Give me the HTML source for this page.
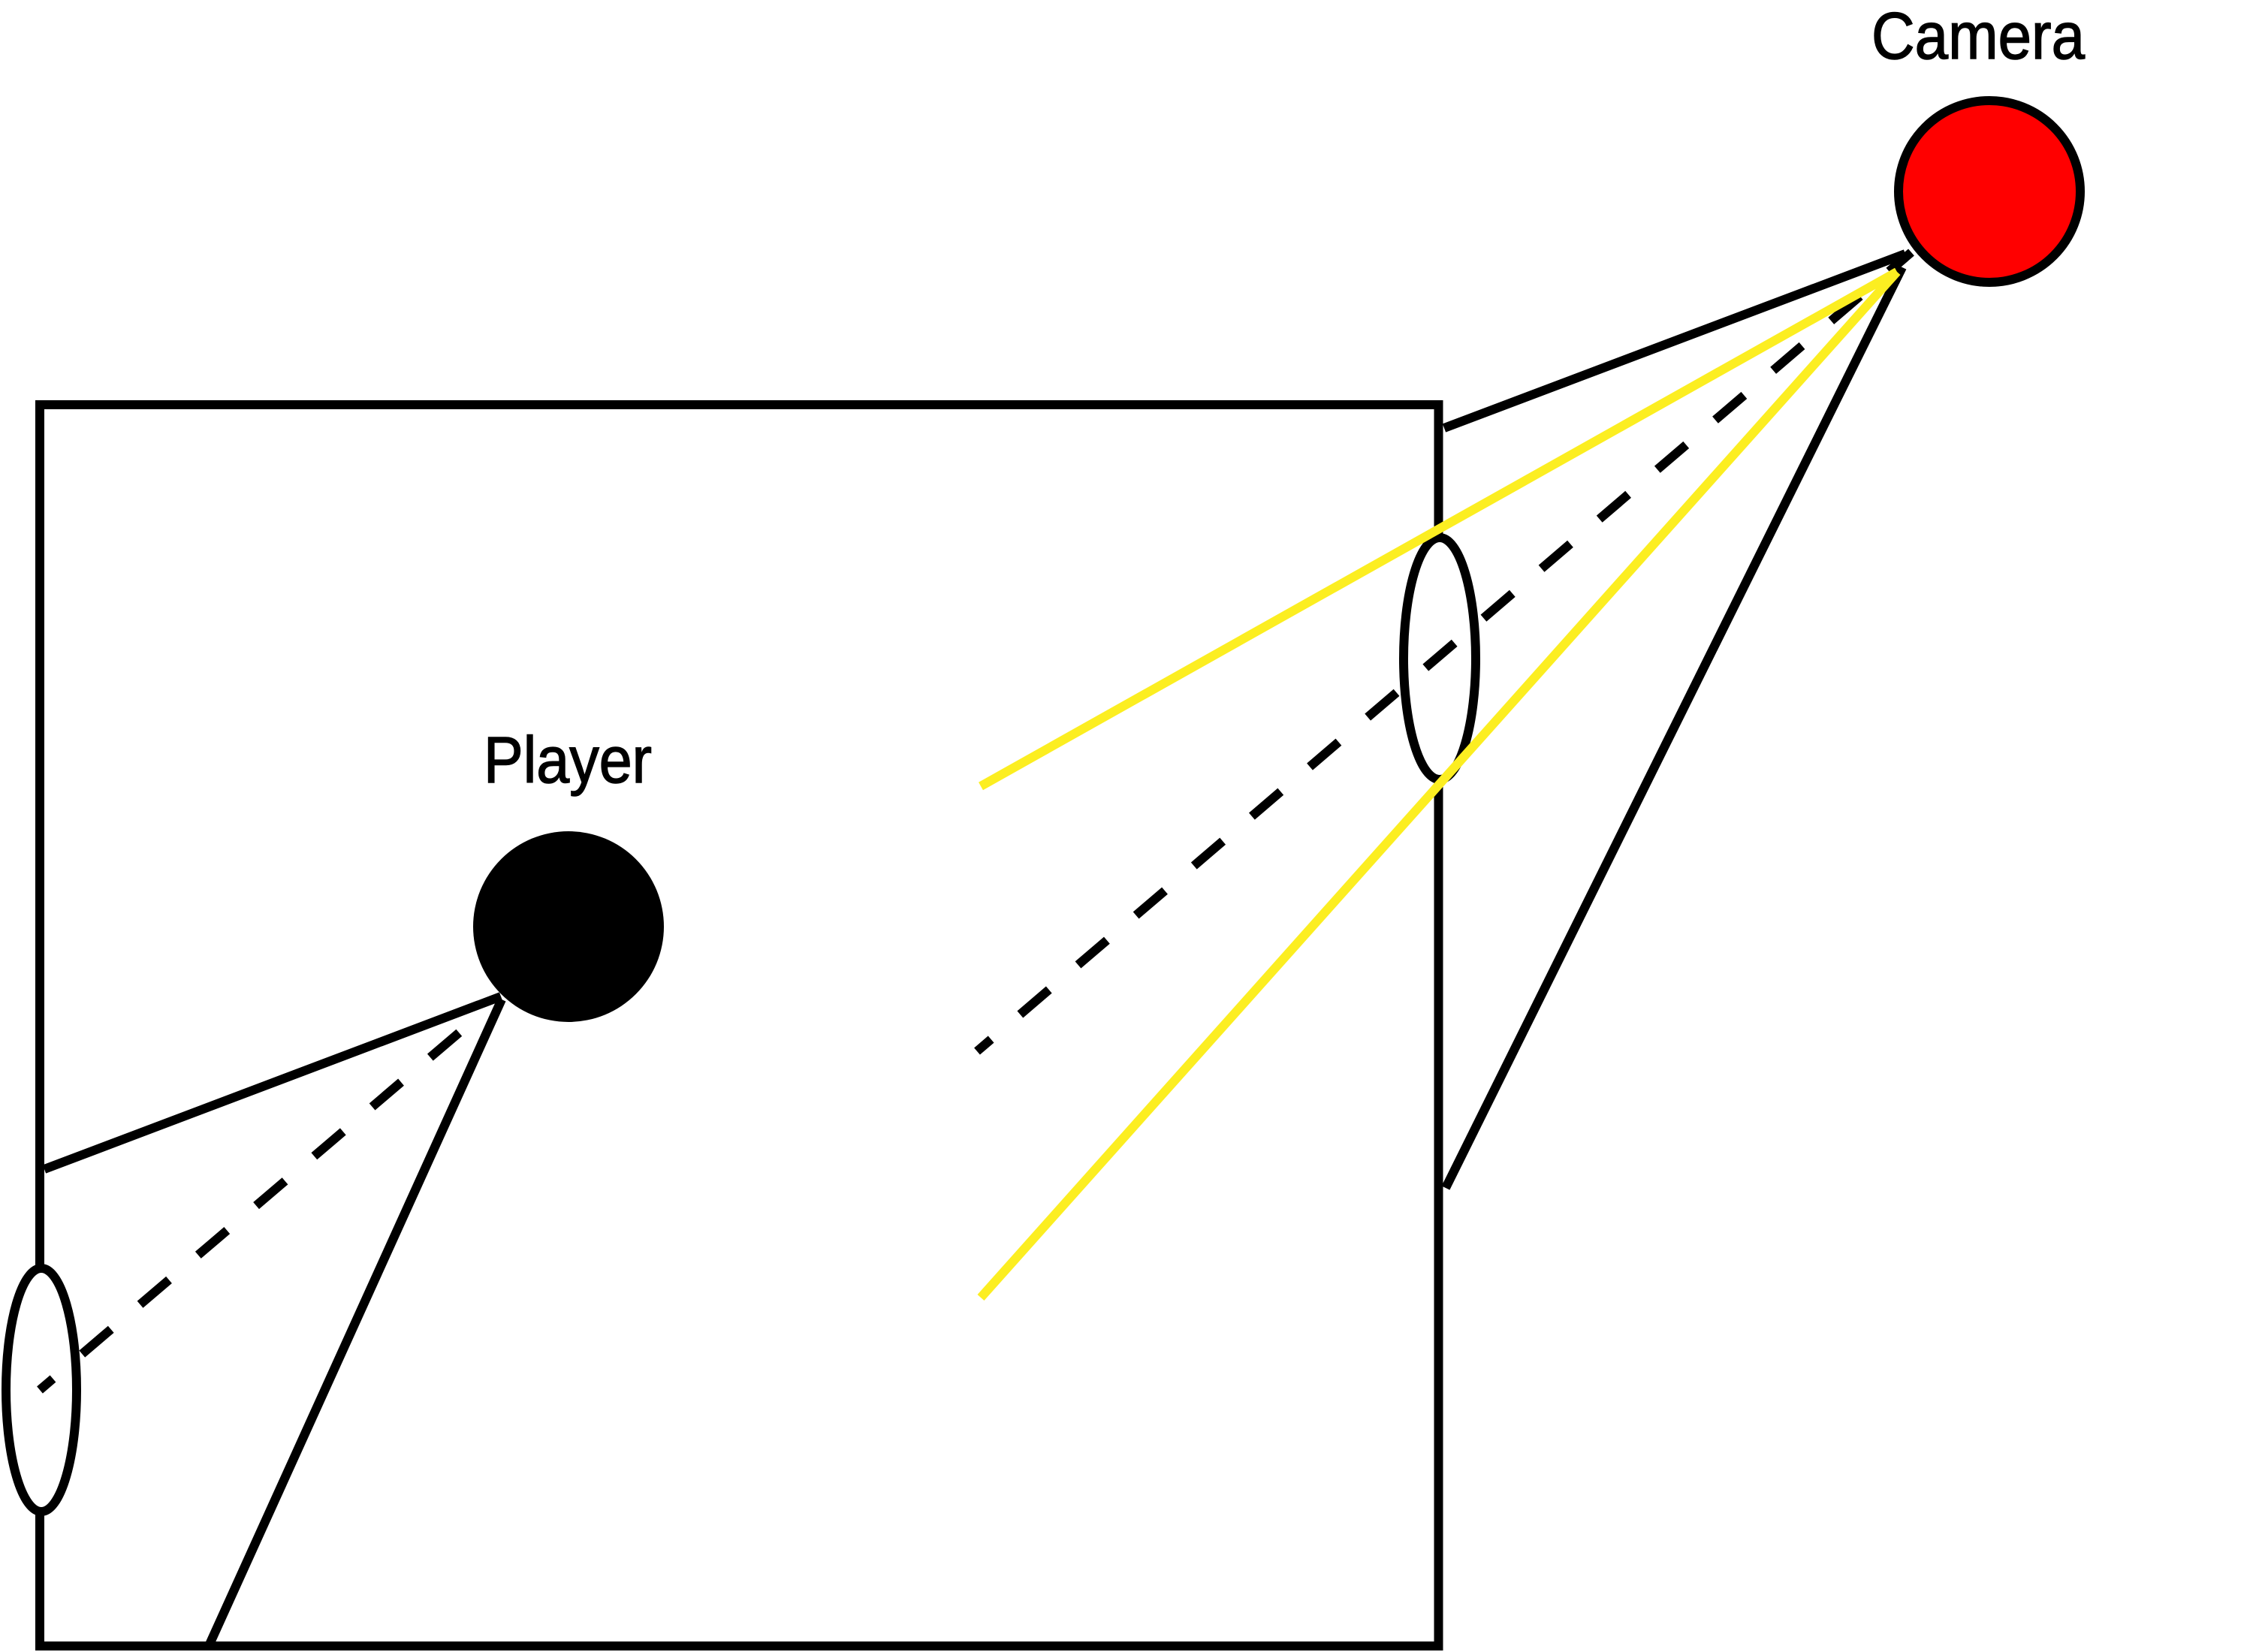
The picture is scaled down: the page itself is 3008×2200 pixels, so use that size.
<!DOCTYPE html>
<html>
<head>
<meta charset="utf-8">
<style>
  html, body { margin: 0; padding: 0; background: #ffffff; }
  body { width: 3008px; height: 2200px; overflow: hidden; }
  svg { display: block; }
</style>
</head>
<body>
<svg width="3008" height="2200" viewBox="0 0 3008 2200" xmlns="http://www.w3.org/2000/svg">
  <rect x="0" y="0" width="3008" height="2200" fill="#ffffff"/>

  <!-- room rectangle -->
  <rect x="53" y="539" width="1862.5" height="1653" fill="none" stroke="#000" stroke-width="12"/>

  <!-- door ellipses -->
  <ellipse cx="55" cy="1851" rx="47" ry="162" fill="#fff" stroke="#000" stroke-width="12"/>
  <ellipse cx="1917" cy="877" rx="48" ry="161" fill="#fff" stroke="#000" stroke-width="12"/>

  <!-- player view lines -->
  <line x1="59" y1="1557" x2="667" y2="1327" stroke="#000" stroke-width="12" stroke-linecap="butt"/>
  <line x1="668" y1="1331" x2="278" y2="2192" stroke="#000" stroke-width="12" stroke-linecap="butt"/>
  <line x1="611.3" y1="1375.3" x2="53" y2="1851" stroke="#000" stroke-width="12" stroke-dasharray="50.5 51" stroke-linecap="butt"/>

  <!-- camera view lines -->
  <line x1="1923" y1="570" x2="2537" y2="338" stroke="#000" stroke-width="12" stroke-linecap="butt"/>
  <line x1="1925" y1="1582" x2="2533" y2="356" stroke="#000" stroke-width="12" stroke-linecap="butt"/>
  <line x1="1301" y1="1400" x2="2545" y2="336" stroke="#000" stroke-width="12" stroke-dasharray="50.5 51" stroke-dashoffset="26" stroke-linecap="butt"/>

  <!-- yellow lines -->
  <line x1="1306" y1="1047" x2="2526" y2="362" stroke="#FCEE21" stroke-width="12" stroke-linecap="butt"/>
  <line x1="1306" y1="1728" x2="2526" y2="362" stroke="#FCEE21" stroke-width="12" stroke-linecap="butt"/>

  <!-- player -->
  <circle cx="757" cy="1234" r="127" fill="#000"/>
  <!-- camera -->
  <circle cx="2649" cy="255" r="121" fill="#FF0000" stroke="#000" stroke-width="12"/>

  <!-- labels -->
  <text x="644" y="1042" font-family="'Liberation Sans', sans-serif" font-size="87" fill="#000" stroke="#000" stroke-width="1.5" textLength="224" lengthAdjust="spacingAndGlyphs">Player</text>
  <text x="2492" y="78" font-family="'Liberation Sans', sans-serif" font-size="88" fill="#000" stroke="#000" stroke-width="1.5" textLength="284" lengthAdjust="spacingAndGlyphs">Camera</text>
</svg>
</body>
</html>
